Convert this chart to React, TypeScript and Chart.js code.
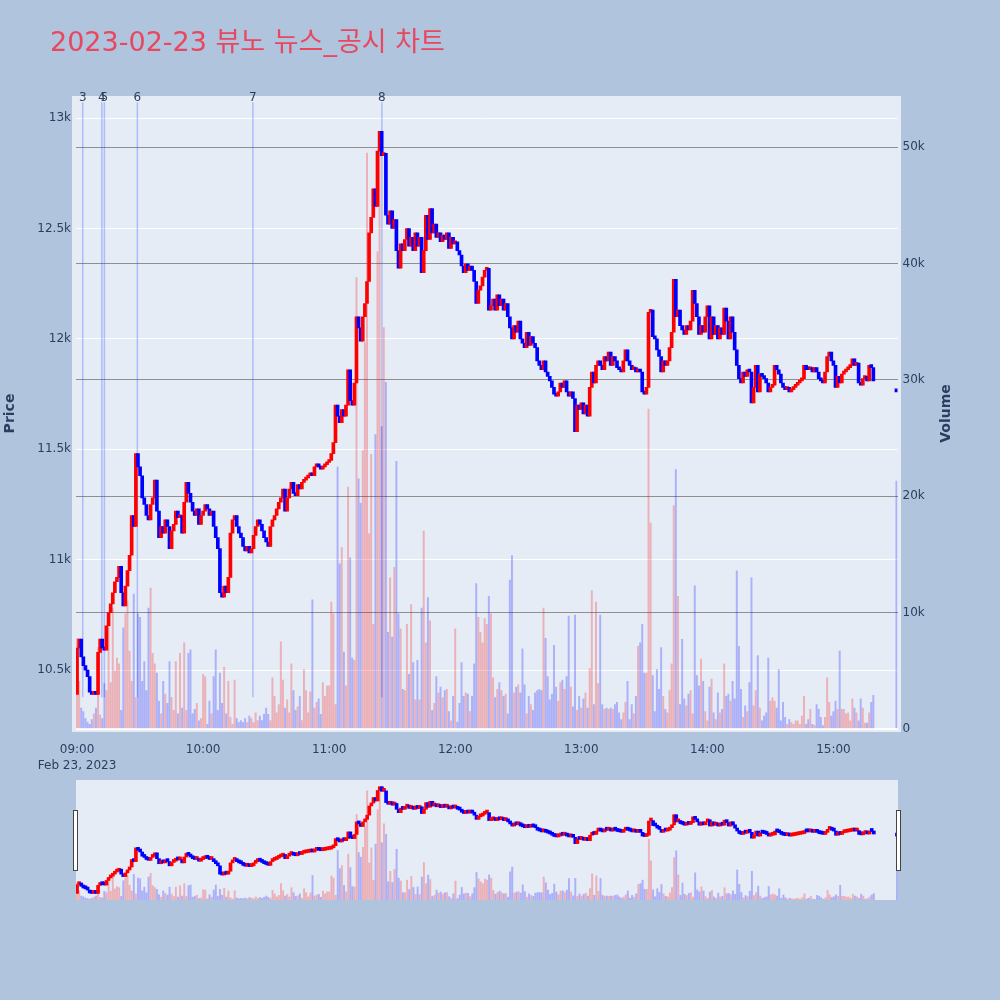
import { useEffect, useRef } from "react"
import { Chart, registerables } from "chart.js"

Chart.register(...registerables)

// minute closes, one array per trading hour (minute 0 = 09:00)
const close09 = [
  10600, 10640, 10560, 10520, 10500, 10470, 10400, 10390, 10400, 10390,
  10580, 10640, 10600, 10590, 10700, 10760, 10800, 10850, 10900, 10920,
  10970, 10850, 10790, 10880, 10950, 11020, 11200, 11150, 11480, 11420,
  11380, 11280, 11250, 11200, 11180, 11250, 11280, 11360, 11220, 11100,
  11150, 11120, 11180, 11150, 11050, 11130, 11160, 11220, 11190, 11200,
  11120, 11260, 11350, 11300, 11260, 11220, 11200, 11230, 11160, 11200,
]
const close10 = [
  11220, 11250, 11230, 11200, 11220, 11150, 11100, 11050, 10850, 10830,
  10880, 10850, 10920, 11120, 11180, 11200, 11150, 11120, 11100, 11060,
  11040, 11060, 11030, 11050, 11110, 11150, 11180, 11160, 11130, 11100,
  11080, 11060, 11150, 11180, 11200, 11230, 11260, 11280, 11320, 11220,
  11280, 11320, 11350, 11300, 11290, 11340, 11320, 11350, 11360, 11370,
  11380, 11390, 11380, 11420, 11430, 11420, 11410, 11420, 11430, 11440,
]
const close11 = [
  11450, 11480, 11530, 11700, 11650, 11620, 11680, 11650, 11700, 11860,
  11720, 11700, 11800, 12100, 12050, 11990, 12100, 12160, 12260, 12480,
  12550, 12680, 12600, 12850, 12940, 12830, 12840, 12560, 12520, 12580,
  12500, 12540, 12400, 12320, 12430, 12400, 12450, 12500, 12420, 12460,
  12400, 12480, 12420, 12460, 12300, 12400, 12560, 12450, 12590, 12480,
  12520, 12460, 12480, 12440, 12470, 12450, 12480, 12410, 12460, 12430,
]
const close12 = [
  12440, 12400, 12380, 12330, 12300, 12340, 12310, 12330, 12310, 12260,
  12160, 12220, 12240, 12280, 12310, 12320, 12130, 12150, 12180, 12130,
  12200, 12150, 12180, 12130, 12160, 12100, 12050, 12000, 12060, 12030,
  12080, 12000, 11980, 11960, 12030, 11970, 12010, 11980, 11960, 11900,
  11880, 11860, 11900, 11850, 11830, 11810, 11780, 11750, 11740, 11760,
  11800, 11780, 11810, 11760, 11740, 11760, 11730, 11580, 11700, 11680,
]
const close13 = [
  11710, 11660, 11700, 11650, 11780, 11850, 11800, 11880, 11900, 11880,
  11860, 11920, 11900, 11940, 11880, 11920, 11900, 11870, 11860, 11850,
  11900, 11950, 11900, 11880, 11860, 11870, 11850, 11860, 11850, 11760,
  11750, 11780, 12120, 12130, 12010, 12000, 11950, 11920, 11850, 11900,
  11880, 11900, 11960, 12030, 12270, 12100, 12130, 12060, 12040, 12020,
  12060, 12040, 12080, 12220, 12160, 12100, 12020, 12060, 12030, 12100,
]
const close14 = [
  12150, 12000, 12100, 12020, 12060, 12000, 12050, 12020, 12140, 12080,
  12000, 12100, 12030, 11950, 11880, 11820, 11800, 11850, 11830, 11860,
  11850, 11710, 11780, 11880, 11760, 11840, 11830, 11820, 11800, 11760,
  11780, 11790, 11880, 11860, 11840, 11800, 11780, 11770, 11780, 11760,
  11770, 11780, 11790, 11800, 11810, 11820, 11880, 11860, 11860, 11870,
  11850, 11870, 11850, 11820, 11810, 11800, 11850, 11920, 11940, 11900,
]
const close15 = [
  11880, 11780, 11830, 11800, 11840, 11850, 11860, 11870, 11880, 11910,
  11880, 11890, 11800, 11790, 11820, 11830, 11810, 11880, 11870, 11810,
]

// minute volumes, same layout
const volume09 = [
  7800, 4100, 1800, 1500, 900, 600, 400, 800, 1300, 1800,
  7000, 1200, 900, 3900, 3300, 8700, 4000, 10400, 5000, 6100,
  5600, 1600, 8700, 9900, 11000, 6700, 4100, 11600, 2700, 9900,
  9600, 4100, 5800, 3300, 10400, 12100, 6500, 5600, 4800, 2400,
  1300, 4100, 3000, 2200, 5800, 2700, 1600, 5800, 1300, 6500,
  1800, 7400, 1600, 6500, 6800, 1300, 1700, 2200, 700, 900,
]
const volume10 = [
  4700, 4500, 400, 2400, 1300, 4500, 6800, 1600, 4800, 2200,
  5300, 1300, 4100, 1000, 400, 4200, 900, 560, 730, 560,
  900, 560, 1100, 900, 560, 1400, 730, 1100, 730, 1250,
  1800, 1250, 730, 4400, 2800, 1400, 2100, 7500, 4200, 1800,
  2500, 1400, 5600, 3300, 1600, 1900, 2800, 730, 5100, 3300,
  1400, 3200, 11100, 1800, 2300, 2600, 1250, 4000, 2800, 3700,
]
const volume11 = [
  3700, 10900, 9900, 2100, 22500, 14200, 15600, 6600, 3700, 20800,
  14700, 6100, 5900, 38800, 21500, 19400, 23900, 33200, 49500, 16800,
  23600, 9000, 25300, 41000, 51000, 26000, 34500, 29800, 8300, 13000,
  7900, 13900, 23000, 9900, 8600, 3400, 3300, 9000, 4700, 10700,
  5700, 2500, 5900, 2500, 10400, 17000, 7400, 11300, 9300, 1600,
  2200, 4500, 3100, 3600, 2700, 3300, 3400, 1500, 700, 2800,
]
const volume12 = [
  8600, 600, 2200, 5700, 2800, 3100, 3000, 1500, 2800, 5600,
  12500, 9600, 8300, 7400, 9500, 9000, 11400, 9900, 4400, 2700,
  3400, 4000, 3300, 2800, 3000, 1300, 12800, 14900, 3100, 3600,
  3800, 3100, 6900, 3800, 1300, 2800, 2100, 1600, 3100, 3300,
  3400, 3300, 10400, 7800, 4500, 2500, 3000, 7200, 3600, 2400,
  4000, 4200, 3400, 4500, 9700, 3600, 1900, 9800, 1600, 2800,
]
const volume13 = [
  1800, 2600, 3100, 1800, 5200, 11900, 2100, 10900, 3900, 9800,
  2100, 1700, 1800, 1700, 1800, 1700, 2100, 2300, 1400, 800,
  1400, 2300, 4100, 800, 2100, 1300, 2800, 7100, 7400, 9000,
  4800, 4800, 27500, 17700, 4600, 1500, 5100, 3400, 7000, 2800,
  1700, 1400, 3300, 5600, 19200, 22300, 11400, 2100, 7700, 2600,
  2000, 3000, 3300, 1300, 12300, 4600, 3700, 6000, 4100, 1500,
]
const volume14 = [
  700, 3600, 4300, 1400, 800, 3100, 1400, 1700, 5600, 2800,
  3000, 2400, 4100, 2600, 13600, 7100, 3400, 1000, 2000, 1500,
  4000, 13000, 2000, 3300, 6300, 1800, 700, 1100, 1400, 6100,
  2400, 2700, 2400, 1800, 5100, 700, 2300, 1000, 400, 800,
  550, 400, 700, 700, 400, 1100, 2800, 400, 800, 1700,
  400, 300, 2100, 1700, 1000, 300, 1000, 4400, 2300, 1100,
]
const volume15 = [
  1500, 2400, 1700, 6700, 1700, 1700, 1300, 1400, 700, 2600,
  1800, 1400, 700, 2600, 1800, 500, 500, 1400, 2300, 2900,
]

const firstOpen = 10390
const auctionMinute = 390 // 15:30 closing auction
const auctionPrice = 11760
const auctionVolume = 21300

const hourTicks = [0, 60, 120, 180, 240, 300, 360]
const timeLabels = ["09:00", "10:00", "11:00", "12:00", "13:00", "14:00", "15:00"]
const dateLabel = "Feb 23, 2023"
const priceTicks = [10500, 11000, 11500, 12000, 12500, 13000]
const volumeTicks = [0, 10000, 20000, 30000, 40000, 50000]

// news / disclosure markers
const newsLabels = ["3", "4", "5", "6", "7", "8"]
const newsMinutes = [2.7, 11.8, 13, 28.7, 83.7, 145.1]

const titleText = "2023-02-23 뷰노 뉴스_공시 차트"

const FONT = '"DejaVu Sans", Verdana, "Noto Sans CJK KR", sans-serif'
const INK = "#2a3f5f"
const PLOT_BG = "#E5ECF6"
const PAGE_BG = "#B0C4DE"
const UP = "#FF0000"
const DOWN = "#0000FF"

const xRange = { min: -0.5, max: 390.5 }
const priceRange = { min: 10233, max: 13100 }
const volumeRange = { min: 0, max: 54400 }

function buildRows() {
  const closes = [...close09, ...close10, ...close11, ...close12, ...close13, ...close14, ...close15]
  const volumes = [...volume09, ...volume10, ...volume11, ...volume12, ...volume13, ...volume14, ...volume15]
  const rows = closes.map((c, i) => ({
    minute: i,
    open: i === 0 ? firstOpen : closes[i - 1],
    close: c,
    volume: volumes[i],
  }))
  rows.push({ minute: auctionMinute, open: auctionPrice, close: auctionPrice, volume: auctionVolume })
  return rows
}

function makeDatasets(candleMin: number): any[] {
  const rows = buildRows()
  const rising = rows.map((r) => r.close > r.open)
  return [
    {
      label: "Price",
      yAxisID: "y",
      order: 0,
      grouped: false,
      barThickness: 3,
      minBarLength: candleMin,
      borderWidth: 0,
      data: rows.map((r) => ({ x: r.minute, y: [r.open, r.close] })),
      backgroundColor: rising.map((u) => (u ? UP : DOWN)),
    },
    {
      label: "Volume",
      yAxisID: "y1",
      order: 1,
      grouped: false,
      barThickness: 1.3,
      borderWidth: 0,
      data: rows.map((r) => ({ x: r.minute, y: r.volume })),
      backgroundColor: rising.map((u) => (u ? "rgba(255,0,0,0.25)" : "rgba(0,0,255,0.25)")),
    },
  ]
}

const mainDecor = {
  id: "mainDecor",
  beforeDraw(chart: any) {
    const { ctx, chartArea } = chart
    ctx.save()
    ctx.fillStyle = PLOT_BG
    ctx.fillRect(chartArea.left - 4, chartArea.top, chartArea.width + 7.5, chartArea.height + 3)
    ctx.restore()
  },
  beforeDatasetsDraw(chart: any) {
    const { ctx, chartArea, scales } = chart
    const h = chartArea.bottom - chartArea.top
    ctx.save()
    ctx.strokeStyle = "rgba(40,80,255,0.3)"
    ctx.lineWidth = 1.5
    newsMinutes.forEach((m) => {
      const x = scales.x.getPixelForValue(m)
      ctx.beginPath()
      ctx.moveTo(x, chartArea.bottom - 0.05 * h)
      ctx.lineTo(x, chartArea.bottom - 0.99 * h)
      ctx.stroke()
    })
    ctx.restore()
  },
  afterDraw(chart: any) {
    const { ctx, chartArea, scales } = chart
    ctx.save()
    ctx.fillStyle = INK
    ctx.font = `12px ${FONT}`
    ctx.textAlign = "center"
    ctx.textBaseline = "alphabetic"
    newsMinutes.forEach((m, i) => {
      ctx.fillText(newsLabels[i], scales.x.getPixelForValue(m), chartArea.top + 5)
    })

    ctx.font = `bold 14px ${FONT}`
    ctx.textBaseline = "middle"
    const midY = (chartArea.top + chartArea.bottom) / 2 + 1
    ctx.save()
    ctx.translate(10, midY)
    ctx.rotate(-Math.PI / 2)
    ctx.fillText("Price", 0, 0)
    ctx.restore()
    ctx.save()
    ctx.translate(946.5, midY)
    ctx.rotate(-Math.PI / 2)
    ctx.fillText("Volume", 0, 0)
    ctx.restore()

    ctx.font = `27px ${FONT}`
    ctx.fillStyle = "#E8485F"
    ctx.textAlign = "left"
    ctx.textBaseline = "alphabetic"
    ctx.fillText(titleText, 50, 51)
    ctx.restore()
  },
}

const sliderBg = {
  id: "sliderBg",
  beforeDraw(chart: any) {
    const { ctx, width, height } = chart
    ctx.save()
    ctx.fillStyle = PLOT_BG
    ctx.fillRect(0, 0, width, height)
    ctx.restore()
  },
}

const tickFont = { family: FONT, size: 12 }

export default function App() {
  const mainRef = useRef<HTMLCanvasElement>(null)
  const sliderRef = useRef<HTMLCanvasElement>(null)

  useEffect(() => {
    if (!mainRef.current || !sliderRef.current) return

    const main = new Chart(mainRef.current, {
      type: "bar",
      data: { datasets: makeDatasets(3) },
      options: {
        responsive: false,
        animation: false,
        layout: { padding: { top: 96, left: 0, right: 0, bottom: 0 } },
        plugins: { legend: { display: false }, tooltip: { enabled: false } },
        scales: {
          x: {
            type: "linear",
            min: xRange.min,
            max: xRange.max,
            offset: false,
            grid: { display: false },
            border: { display: false },
            afterBuildTicks: (axis: any) => {
              axis.ticks = hourTicks.map((v) => ({ value: v }))
            },
            afterFit: (axis: any) => {
              axis.height = 46
            },
            ticks: {
              autoSkip: false,
              maxRotation: 0,
              padding: 5,
              color: INK,
              font: { ...tickFont, lineHeight: 1.3 },
              callback: (_v: any, i: number) => (i === 0 ? [timeLabels[0], dateLabel] : timeLabels[i]),
            },
          },
          y: {
            position: "left",
            min: priceRange.min,
            max: priceRange.max,
            grid: { color: "#ffffff", lineWidth: 1, drawTicks: false },
            border: { display: false },
            afterBuildTicks: (axis: any) => {
              axis.ticks = priceTicks.map((v) => ({ value: v }))
            },
            afterFit: (axis: any) => {
              axis.width = 76
            },
            ticks: {
              padding: 5,
              color: INK,
              font: tickFont,
              callback: (v: any) => `${Number(v) / 1000}k`,
            },
          },
          y1: {
            position: "right",
            min: volumeRange.min,
            max: volumeRange.max,
            grid: {
              color: (c: any) => (c.tick && c.tick.value === 0 ? "#ffffff" : "#8f8f8f"),
              lineWidth: (c: any) => (c.tick && c.tick.value === 0 ? 2 : 1),
              drawTicks: false,
            },
            border: { display: false },
            afterBuildTicks: (axis: any) => {
              axis.ticks = volumeTicks.map((v) => ({ value: v }))
            },
            afterFit: (axis: any) => {
              axis.width = 102.5
            },
            ticks: {
              padding: 5,
              color: INK,
              font: tickFont,
              callback: (v: any) => (Number(v) === 0 ? "0" : `${Number(v) / 1000}k`),
            },
          },
        },
      } as any,
      plugins: [mainDecor],
    })

    const slider = new Chart(sliderRef.current, {
      type: "bar",
      data: { datasets: makeDatasets(3) },
      options: {
        responsive: false,
        animation: false,
        layout: { padding: 0 },
        plugins: { legend: { display: false }, tooltip: { enabled: false } },
        scales: {
          x: { type: "linear", display: false, offset: false, min: xRange.min, max: xRange.max },
          y: { display: false, min: priceRange.min, max: priceRange.max },
          y1: { display: false, min: volumeRange.min, max: volumeRange.max },
        },
      } as any,
      plugins: [sliderBg],
    })

    return () => {
      main.destroy()
      slider.destroy()
    }
  }, [])

  const handle = {
    position: "absolute" as const,
    top: 810,
    width: 5,
    height: 61,
    boxSizing: "border-box" as const,
    border: "1px solid #444",
    background: "#ffffff",
  }

  return (
    <div
      style={{
        position: "fixed",
        left: 0,
        top: 0,
        width: 1000,
        height: 1000,
        background: PAGE_BG,
        overflow: "hidden",
      }}
    >
      <canvas
        ref={mainRef}
        width={1000}
        height={775}
        style={{ position: "absolute", left: 0, top: 0, display: "block" }}
      />
      <canvas
        ref={sliderRef}
        width={822}
        height={120}
        style={{ position: "absolute", left: 76, top: 780, display: "block" }}
      />
      <div style={{ ...handle, left: 73 }} />
      <div style={{ ...handle, left: 896 }} />
    </div>
  )
}
